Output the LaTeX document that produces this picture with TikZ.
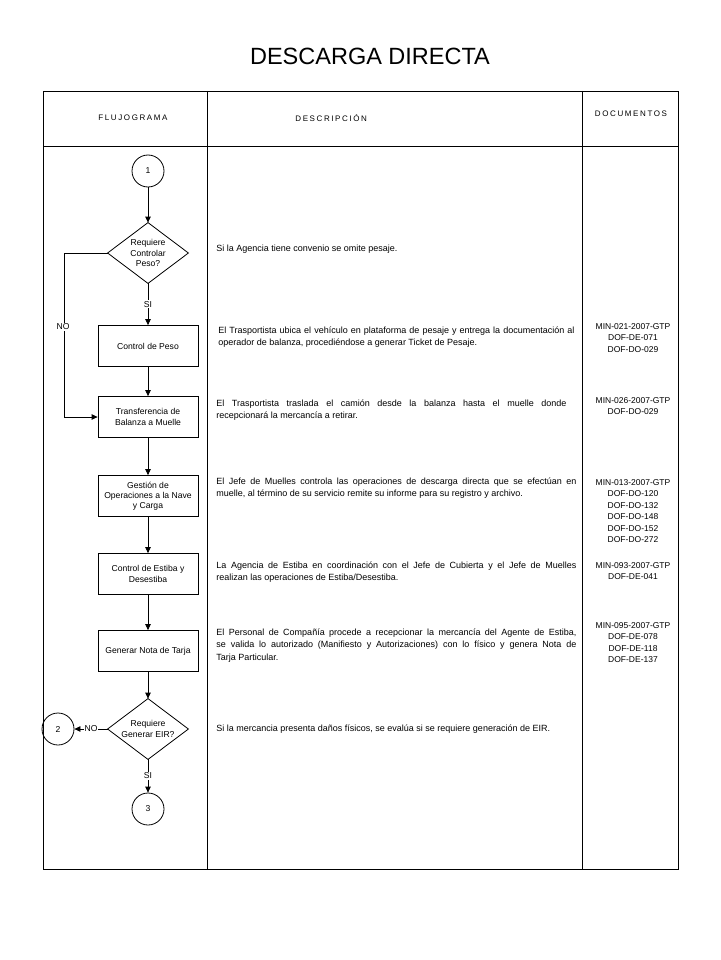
\documentclass[tikz,border=0pt]{standalone}
\usepackage{fontspec}
\setmainfont{Liberation Sans}
\newfontfamily\hdrfont[LetterSpace=20]{Liberation Sans}
\usetikzlibrary{arrows.meta}
\begin{document}
\begin{tikzpicture}[x=1pt,y=-1pt,
  line width=0.8pt,
  grid/.style={line width=0.9pt},
  procbox/.style={draw, minimum width=100pt, minimum height=41pt, align=center, font=\fontsize{8.6}{10.2}\selectfont, inner sep=1pt},
  decbox/.style={minimum width=80pt, minimum height=60pt, inner sep=0pt},
  dectext/.style={align=center, font=\fontsize{8.6}{10.2}\selectfont, inner sep=0pt},
  conn/.style={draw, circle, minimum size=32pt, inner sep=0pt, font=\fontsize{8.6}{10}\selectfont},
  arr/.style={-{Triangle[length=6pt,width=5.5pt]}},
  lbl/.style={fill=white, inner sep=1pt, font=\fontsize{8.6}{10}\selectfont},
  desc/.style={anchor=north west, inner sep=0pt, text width=360pt, align=justify, font=\fontsize{9}{12.3}\selectfont},
  docs/.style={anchor=north, inner sep=0pt, align=center, font=\fontsize{8.5}{11.5}\selectfont},
  hdr/.style={font=\hdrfont\fontsize{8}{10}\selectfont, inner sep=0pt}
]
\useasboundingbox (0,0) rectangle (720,960);
\fill[white] (0,0) rectangle (720,960);

% title
\node[font=\fontsize{23.5}{27}\selectfont] (title) at (370,56) {DESCARGA DIRECTA};

% table
\draw[grid] (43,91) rectangle (678,869);
\draw[grid] (43,146) -- (678,146);
\draw[grid] (207,91) -- (207,869);
\draw[grid] (582,91) -- (582,869);

% headers
\node[hdr] (hflu) at (133,118) {FLUJOGRAMA};
\node[hdr, anchor=west] (hdes) at (295,118) {DESCRIPCIÓN};
\node[hdr] (hdoc) at (631,114) {DOCUMENTOS};

% flowchart
\node[conn] (c1) at (148,171) {1};
\node[decbox] (d1) at (148,253) {};
\draw (d1.north) -- (d1.east) -- (d1.south) -- (d1.west) -- cycle;
\node[dectext] (d1t) at (148,253) {Requiere\\Controlar\\Peso?};
\node[procbox] (p1) at (148,346) {Control de Peso};
\node[procbox] (p2) at (148,417) {Transferencia de\\Balanza a Muelle};
\node[procbox] (p3) at (148,496) {Gestión de\\Operaciones a la Nave\\y Carga};
\node[procbox] (p4) at (148,574) {Control de Estiba y\\Desestiba};
\node[procbox] (p5) at (148,651) {Generar Nota de Tarja};
\node[decbox] (d2) at (148,729) {};
\draw (d2.north) -- (d2.east) -- (d2.south) -- (d2.west) -- cycle;
\node[dectext] (d2t) at (148,729) {Requiere\\Generar EIR?};
\node[conn] (c2) at (58,729) {2};
\node[conn] (c3) at (148,809) {3};
\coordinate (nc) at (64,253);

\draw[arr] (c1) -- (d1.north);
\draw[arr] (d1.south) -- node[lbl] {SI} (p1);
\draw[arr] (p1) -- (p2);
\draw[arr] (d1.west) -- (nc) |- (p2.west);
\node[lbl] (nolbl) at (63,327) {NO};
\draw[arr] (p2) -- (p3);
\draw[arr] (p3) -- (p4);
\draw[arr] (p4) -- (p5);
\draw[arr] (p5) -- (d2.north);
\draw[arr] (d2.west) -- node[lbl] {NO} (c2);
\draw[arr] (d2.south) -- node[lbl] {SI} (c3);

% descriptions
\node[desc] (t1) at (216,244.5) {Si la Agencia tiene convenio se omite pesaje.};
\node[desc, text width=356pt] (t2) at (218,326.5) {El Trasportista ubica el vehículo en plataforma de pesaje y entrega la documentación al\linebreak operador de balanza, procediéndose a generar Ticket de Pesaje.};
\node[desc, text width=350pt] (t3) at (216,399.5) {El Trasportista traslada el camión desde la balanza hasta el muelle donde\linebreak recepcionará la mercancía a retirar.};
\node[desc] (t4) at (216,477.5) {El Jefe de Muelles controla las operaciones de descarga directa que se efectúan en\linebreak muelle, al término de su servicio remite su informe para su registro y archivo.};
\node[desc] (t5) at (216,561.5) {La Agencia de Estiba en coordinación con el Jefe de Cubierta y el Jefe de Muelles\linebreak realizan las operaciones de Estiba/Desestiba.};
\node[desc] (t6) at (216,628.5) {El Personal de Compañía procede a recepcionar la mercancía del Agente de Estiba,\linebreak se valida lo autorizado (Manifiesto y Autorizaciones) con lo físico y genera Nota de\linebreak Tarja Particular.};
\node[desc] (t7) at (216,724.5) {Si la mercancia presenta daños físicos, se evalúa si se requiere generación de EIR.};

% documents
\node[docs] (r2) at (633,323) {MIN-021-2007-GTP\\DOF-DE-071\\DOF-DO-029};
\node[docs] (r3) at (633,397) {MIN-026-2007-GTP\\DOF-DO-029};
\node[docs] (r4) at (633,479) {MIN-013-2007-GTP\\DOF-DO-120\\DOF-DO-132\\DOF-DO-148\\DOF-DO-152\\DOF-DO-272};
\node[docs] (r5) at (633,562) {MIN-093-2007-GTP\\DOF-DE-041};
\node[docs] (r6) at (633,622) {MIN-095-2007-GTP\\DOF-DE-078\\DOF-DE-118\\DOF-DE-137};
\end{tikzpicture}
\end{document}
